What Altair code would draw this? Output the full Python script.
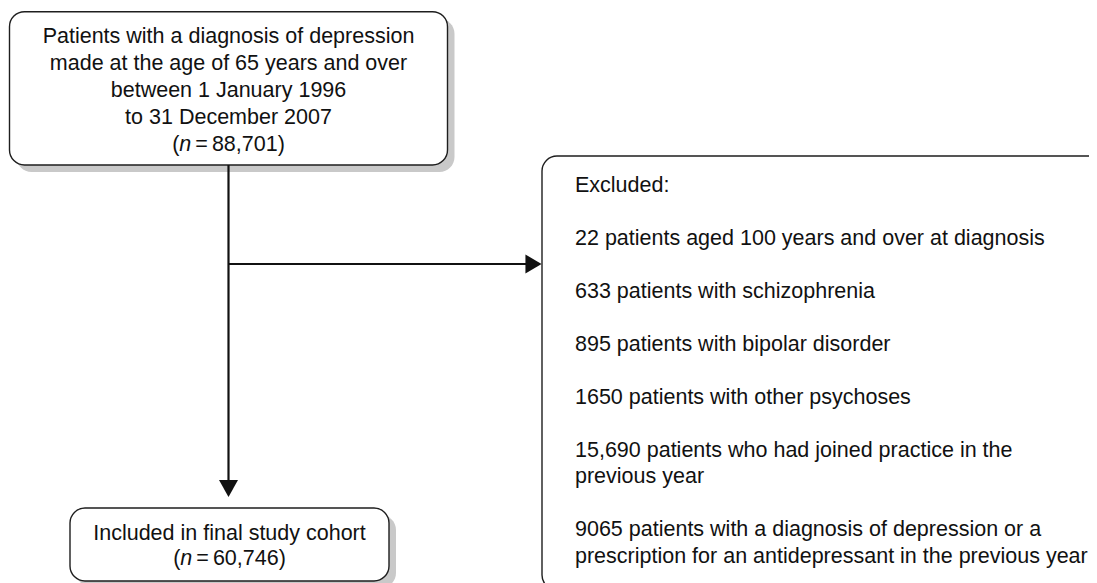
import altair as alt
import pandas as pd

# ---------------- text content ----------------
top_lines = [
    "Patients with a diagnosis of depression",
    "made at the age of 65 years and over",
    "between 1 January 1996",
    "to 31 December 2007",
]
top_n = "88,701"
bottom_lines = ["Included in final study cohort"]
bottom_n = "60,746"
excl_title = "Excluded:"
excl_items = [
    ["22 patients aged 100 years and over at diagnosis"],
    ["633 patients with schizophrenia"],
    ["895 patients with bipolar disorder"],
    ["1650 patients with other psychoses"],
    ["15,690 patients who had joined practice in the", "previous year"],
    ["9065 patients with a diagnosis of depression or a",
     "prescription for an antidepressant in the previous year"],
]

# ---------------- layout / style ----------------
FONT = "Liberation Sans"
FS = 21.5
TXT = "#111111"
EDGE = "#1e1e1e"
SHADOW = "#c9c9c9"
# page coordinates covered by the view (page has an 8px margin)
X0, X1, Y0, Y1 = 8, 1089, 8, 583

# Arial advance widths (per 1000 em) for the "(n = ...)" lines
ADV = {"(": 333, ")": 333, "n": 556, " ": 278, "=": 584, ",": 278}
for d in "0123456789":
    ADV[d] = 556


def width(s):
    return sum(ADV.get(c, 556) for c in s) * FS / 1000.0


xs = alt.Scale(domain=[X0, X1], nice=False, zero=False)
ys = alt.Scale(domain=[Y0, Y1], nice=False, zero=False, reverse=True)

boxes = pd.DataFrame([
    dict(name="top", x=9.5, x2=447.5, y=11.7, y2=165.0),
    dict(name="bottom", x=70.0, x2=389.0, y=508.0, y2=581.0),
    dict(name="right", x=542.0, x2=1130.0, y=156.0, y2=590.0),
])
SH = 7.0
shadows = boxes[boxes.name != "right"].copy()
for c in ["x", "x2", "y", "y2"]:
    shadows[c] = shadows[c] + SH

enc_rect = dict(
    x=alt.X("x:Q", scale=xs, axis=None),
    x2="x2:Q",
    y=alt.Y("y:Q", scale=ys, axis=None),
    y2="y2:Q",
)

shadow_layer = alt.Chart(shadows).mark_rect(
    cornerRadius=15, fill=SHADOW, clip=True
).encode(**enc_rect)

box_layer = alt.Chart(boxes).mark_rect(
    cornerRadius=15, fill="white", stroke=EDGE, strokeWidth=1.4, clip=True
).encode(**enc_rect)

XC = 228.5
lines = pd.DataFrame([
    dict(x=XC, x2=XC, y=165.0, y2=481.0),
    dict(x=XC, x2=526.0, y=264.0, y2=264.0),
])
line_layer = alt.Chart(lines).mark_rule(color="#111111", strokeWidth=2.2).encode(
    x=alt.X("x:Q", scale=xs, axis=None), x2="x2:Q",
    y=alt.Y("y:Q", scale=ys, axis=None), y2="y2:Q",
)

heads_down = pd.DataFrame([dict(x=XC, y=488.5)])
heads_right = pd.DataFrame([dict(x=533.5, y=264.0)])
enc_pt = dict(x=alt.X("x:Q", scale=xs, axis=None), y=alt.Y("y:Q", scale=ys, axis=None))
down_layer = alt.Chart(heads_down).mark_point(
    shape="M-1,-0.9L1,-0.9L0,0.9Z", size=361, filled=True, fill="#111111",
    strokeWidth=0, opacity=1,
).encode(**enc_pt)
right_layer = alt.Chart(heads_right).mark_point(
    shape="M-0.85,-1L0.85,0L-0.85,1Z", size=361, filled=True, fill="#111111",
    strokeWidth=0, opacity=1,
).encode(**enc_pt)

# ---------------- text rows ----------------
center_rows, left_rows, italic_rows = [], [], []

TOP_B, TOP_LH = 43.3, 26.8
for k, t in enumerate(top_lines):
    center_rows.append(dict(t=t, x=XC, y=TOP_B + k * TOP_LH))

BOT_B, BOT_LH, BOT_XC = 540.0, 25.0, 229.5
for k, t in enumerate(bottom_lines):
    center_rows.append(dict(t=t, x=BOT_XC, y=BOT_B + k * BOT_LH))

GAP = 4.0  # thin gaps around "="


def n_line(value, xc, y):
    rest = value + ")"
    total = width("(") + width("n") + GAP + width("=") + GAP + width(rest)
    x = xc - total / 2.0
    left_rows.append(dict(t="(", x=x, y=y))
    x += width("(")
    italic_rows.append(dict(t="n", x=x, y=y))
    x += width("n") + GAP
    left_rows.append(dict(t="=", x=x, y=y))
    x += width("=") + GAP
    left_rows.append(dict(t=rest, x=x, y=y))


n_line(top_n, XC, TOP_B + len(top_lines) * TOP_LH)
n_line(bottom_n, BOT_XC, BOT_B + len(bottom_lines) * BOT_LH)

EX_X, EX_B, EX_LH = 575.0, 191.7, 26.5
left_rows.append(dict(t=excl_title, x=EX_X, y=EX_B))
k = 2
for item in excl_items:
    for j, t in enumerate(item):
        left_rows.append(dict(t=t, x=EX_X, y=EX_B + (k + j) * EX_LH))
    k += len(item) + 1

enc_t = dict(x=alt.X("x:Q", scale=xs, axis=None),
             y=alt.Y("y:Q", scale=ys, axis=None), text="t:N")
txt_kw = dict(font=FONT, fontSize=FS, color=TXT, baseline="alphabetic")

center_layer = alt.Chart(pd.DataFrame(center_rows)).mark_text(align="center", **txt_kw).encode(**enc_t)
left_layer = alt.Chart(pd.DataFrame(left_rows)).mark_text(align="left", **txt_kw).encode(**enc_t)
italic_layer = alt.Chart(pd.DataFrame(italic_rows)).mark_text(
    align="left", fontStyle="italic", **txt_kw).encode(**enc_t)

chart = alt.layer(
    shadow_layer, box_layer, line_layer, down_layer, right_layer,
    center_layer, left_layer, italic_layer,
).properties(
    width=X1 - X0, height=Y1 - Y0, padding=0, autosize="none",
    background="white",
).configure_view(stroke=None)

chart.save("out.html", embed_options={"renderer": "svg", "actions": False})
